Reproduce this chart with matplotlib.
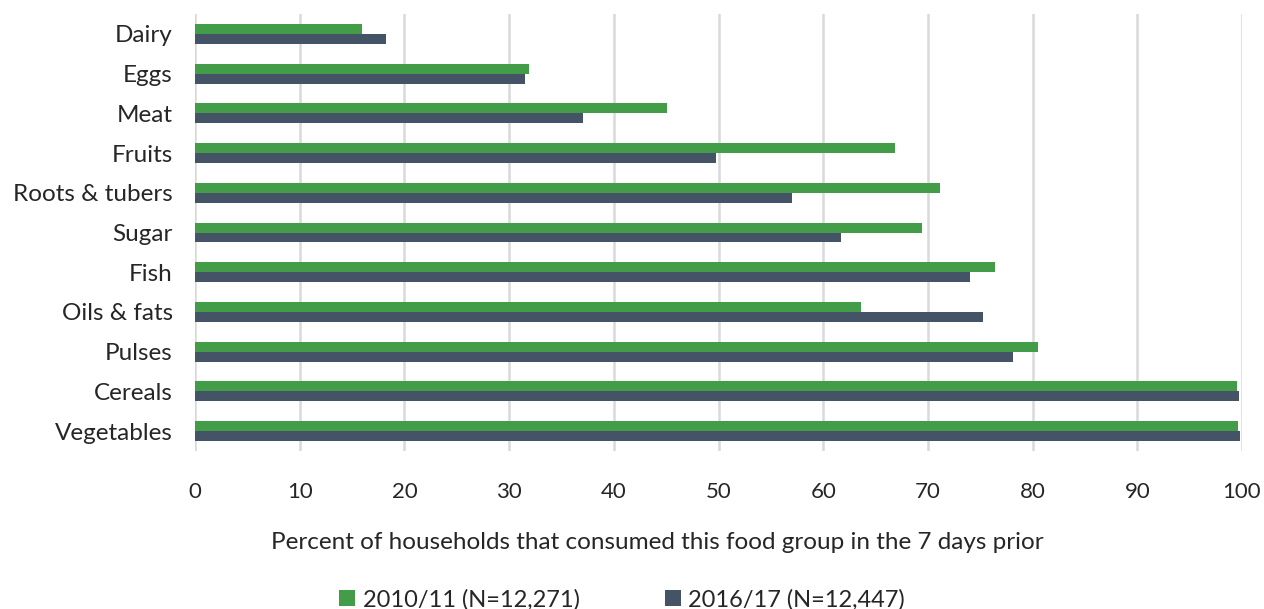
import matplotlib
matplotlib.use("Agg")
import matplotlib.pyplot as plt
import numpy as np

categories = ["Dairy", "Eggs", "Meat", "Fruits", "Roots & tubers", "Sugar",
              "Fish", "Oils & fats", "Pulses", "Cereals", "Vegetables"]
y2010 = [15.9, 31.9, 45.1, 66.9, 71.2, 69.4, 76.4, 63.6, 80.5, 99.5, 99.6]
y2016 = [18.2, 31.5, 37.1, 49.8, 57.0, 61.7, 74.0, 75.3, 78.1, 99.7, 99.85]
labels = ["2010/11 (N=12,271)", "2016/17 (N=12,447)"]
xticks = list(range(0, 101, 10))

green = "#439C48"
slate = "#445466"
txt = "#262626"

plt.rcParams['font.family'] = ['Lato', 'DejaVu Sans']

fig = plt.figure(figsize=(12.64, 6.09), dpi=100)
ax = fig.add_axes([0.1543, 0.2594, 0.8283, 0.7176])

pos = np.arange(len(categories))
h = 0.25
ax.barh(pos - h / 2, y2010, height=h, color=green, label=labels[0])
ax.barh(pos + h / 2, y2016, height=h, color=slate, label=labels[1])

ax.set_ylim(len(categories) - 0.5, -0.5)
ax.set_xlim(0, 100)
ax.set_yticks(pos)
ax.set_yticklabels(categories, fontsize=17.5, color=txt)
ax.set_xticks(xticks)
ax.set_xticklabels([str(t) for t in xticks], fontsize=16, color=txt)
ax.tick_params(axis="y", length=0, pad=16)
ax.tick_params(axis="x", length=0, pad=22)

ax.grid(axis="x", color="#D9D9D9", linewidth=1.8)
ax.set_axisbelow(True)
for s in ["top", "right", "bottom", "left"]:
    ax.spines[s].set_visible(False)

ax.set_xlabel("Percent of households that consumed this food group in the 7 days prior",
              fontsize=17.5, color=txt, labelpad=19)
ax.xaxis.set_label_coords(0.442, -0.185)

leg = fig.legend(loc="lower center", bbox_to_anchor=(0.492, -0.037), ncol=2, frameon=False,
                 fontsize=17, handlelength=0.7, handleheight=0.7, columnspacing=3.6,
                 handletextpad=0.3)
for t in leg.get_texts():
    t.set_color(txt)

fig.savefig("out.png", dpi=100)
